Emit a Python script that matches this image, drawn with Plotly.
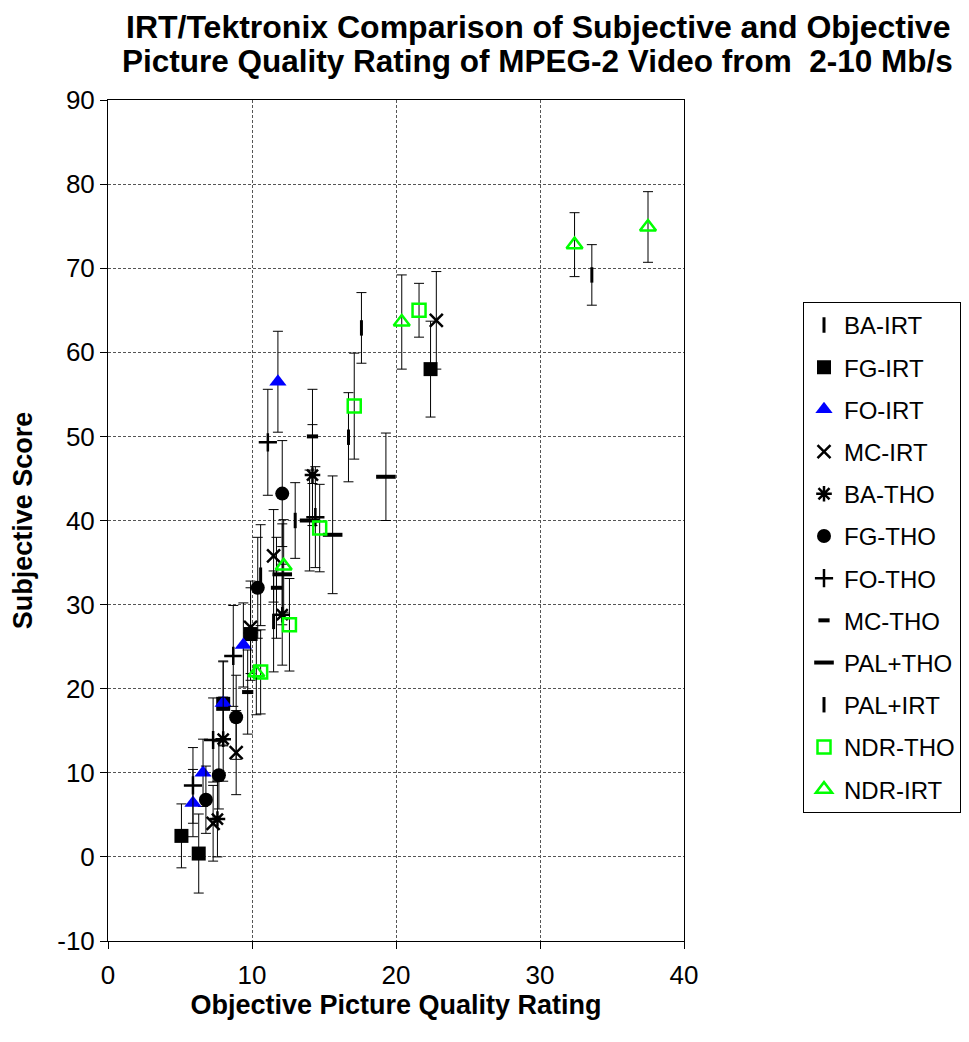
import plotly.graph_objects as go

# ---------------- data ----------------
series_names = ["BA-IRT", "FG-IRT", "FO-IRT", "MC-IRT", "BA-THO", "FG-THO",
                "FO-THO", "MC-THO", "PAL+THO", "PAL+IRT", "NDR-THO", "NDR-IRT"]

ba_irt_x = [10.6, 11.5, 13.0, 16.7]
ba_irt_y = [33.5, 28.0, 40.0, 49.9]
ba_irt_e = [6.0, 6.0, 4.5, 5.3]

fg_irt_x = [5.1, 6.3, 8.0, 9.9, 22.4]
fg_irt_y = [2.5, 0.4, 18.2, 26.5, 58.0]
fg_irt_e = [3.8, 4.7, 5.0, 5.5, 5.7]

fo_irt_x = [5.9, 6.6, 8.0, 9.4, 11.8]
fo_irt_y = [6.4, 10.0, 18.3, 25.2, 56.5]
fo_irt_e = [4.0, 4.0, 5.0, 5.0, 6.0]

mc_irt_x = [7.3, 8.9, 9.9, 11.5, 22.8]
mc_irt_y = [4.0, 12.4, 27.3, 35.8, 63.8]
mc_irt_e = [4.5, 5.0, 5.5, 5.5, 5.8]

ba_tho_x = [7.6, 8.0, 12.1, 14.2]
ba_tho_y = [4.5, 14.0, 28.8, 45.4]
ba_tho_e = [4.5, 5.0, 6.0, 6.0]

fg_tho_x = [6.8, 7.7, 8.9, 10.4, 12.1]
fg_tho_y = [6.8, 9.7, 16.6, 32.0, 43.2]
fg_tho_e = [4.0, 4.0, 5.0, 6.0, 6.3]

fo_tho_x = [5.9, 7.3, 8.7, 11.1, 14.4]
fo_tho_y = [8.5, 13.9, 23.9, 49.3, 40.4]
fo_tho_e = [4.5, 5.0, 6.0, 6.3, 6.0]

mc_tho_x = [9.7, 11.7, 14.2]
mc_tho_y = [19.6, 32.0, 50.0]
mc_tho_e = [5.0, 6.0, 5.6]

pal_tho_x = [12.1, 14.0, 15.6, 19.3]
pal_tho_y = [33.6, 40.0, 38.3, 45.2]
pal_tho_e = [6.0, 6.0, 7.0, 5.2]

pal_irt_x = [17.6, 33.6]
pal_irt_y = [62.9, 69.2]
pal_irt_e = [4.2, 3.6]

ndr_tho_x = [10.6, 12.6, 14.7, 17.1, 21.6]
ndr_tho_y = [22.0, 27.6, 39.1, 53.6, 65.0]
ndr_tho_e = [5.0, 5.5, 5.2, 6.3, 3.2]

ndr_irt_x = [10.3, 12.2, 20.4, 32.4, 37.5]
ndr_irt_y = [21.9, 34.6, 63.6, 72.8, 74.9]
ndr_irt_e = [5.0, 5.5, 5.6, 3.8, 4.2]

x_ticks = [0, 10, 20, 30, 40]
y_ticks = [-10, 0, 10, 20, 30, 40, 50, 60, 70, 80, 90]

# ---------------- styles ----------------
BLACK = "#000000"
BLUE = "#0000FF"
GREEN = "#00FF00"

styles = {
    "BA-IRT":  dict(symbol="line-ns", size=11, color=BLACK, line=dict(width=3, color=BLACK)),
    "FG-IRT":  dict(symbol="square", size=14, color=BLACK, line=dict(width=0)),
    "FO-IRT":  dict(symbol="triangle-up", size=15, color=BLUE, line=dict(width=0)),
    "MC-IRT":  dict(symbol="x-thin", size=13, color=BLACK, line=dict(width=2.5, color=BLACK)),
    "BA-THO":  dict(symbol="asterisk", size=13, color=BLACK, line=dict(width=2.5, color=BLACK)),
    "FG-THO":  dict(symbol="circle", size=14, color=BLACK, line=dict(width=0)),
    "FO-THO":  dict(symbol="cross-thin", size=13, color=BLACK, line=dict(width=2.5, color=BLACK)),
    "MC-THO":  dict(symbol="line-ew", size=8, color=BLACK, line=dict(width=4, color=BLACK)),
    "PAL+THO": dict(symbol="line-ew", size=14, color=BLACK, line=dict(width=4, color=BLACK)),
    "PAL+IRT": dict(symbol="line-ns", size=11, color=BLACK, line=dict(width=3, color=BLACK)),
    "NDR-THO": dict(symbol="square-open", size=13, color=GREEN, line=dict(width=2.5, color=GREEN)),
    "NDR-IRT": dict(symbol="triangle-up-open", size=14, color=GREEN, line=dict(width=2.5, color=GREEN)),
}

data = {
    "BA-IRT": (ba_irt_x, ba_irt_y, ba_irt_e),
    "FG-IRT": (fg_irt_x, fg_irt_y, fg_irt_e),
    "FO-IRT": (fo_irt_x, fo_irt_y, fo_irt_e),
    "MC-IRT": (mc_irt_x, mc_irt_y, mc_irt_e),
    "BA-THO": (ba_tho_x, ba_tho_y, ba_tho_e),
    "FG-THO": (fg_tho_x, fg_tho_y, fg_tho_e),
    "FO-THO": (fo_tho_x, fo_tho_y, fo_tho_e),
    "MC-THO": (mc_tho_x, mc_tho_y, mc_tho_e),
    "PAL+THO": (pal_tho_x, pal_tho_y, pal_tho_e),
    "PAL+IRT": (pal_irt_x, pal_irt_y, pal_irt_e),
    "NDR-THO": (ndr_tho_x, ndr_tho_y, ndr_tho_e),
    "NDR-IRT": (ndr_irt_x, ndr_irt_y, ndr_irt_e),
}

FONT = "Liberation Sans, Arial, sans-serif"

fig = go.Figure()
for name in series_names:
    xs, ys, es = data[name]
    fig.add_trace(go.Scatter(
        x=xs, y=ys, mode="markers", name=name,
        legendgroup=name,
        marker=styles[name],
        error_y=dict(type="data", array=es, visible=True,
                     color="#000000", thickness=1, width=5),
    ))

# page body has an 8px margin on every side; size the figure so it fits the window
fig.update_layout(
    width=953, height=1026,
    paper_bgcolor="white", plot_bgcolor="white",
    margin=dict(l=100, r=277, t=92, b=93, autoexpand=False),
    font=dict(family=FONT, size=24, color="black"),
    showlegend=True,
    legend=dict(
        x=1.2066, y=0.760, xanchor="left", yanchor="top",
        bordercolor="black", borderwidth=1, bgcolor="white",
        font=dict(family=FONT, size=24, color="black"),
        tracegroupgap=8, itemsizing="trace",
    ),
    annotations=[
        dict(text="<b>IRT/Tektronix Comparison of Subjective and Objective</b>",
             xref="paper", yref="paper", x=0.7465, y=1.0868,
             xanchor="center", yanchor="middle", showarrow=False,
             font=dict(family=FONT, size=32, color="black")),
        dict(text="<b>Picture Quality Rating of MPEG-2 Video from  2-10 Mb/s</b>",
             xref="paper", yref="paper", x=0.7465, y=1.0464,
             xanchor="center", yanchor="middle", showarrow=False,
             font=dict(family=FONT, size=31.5, color="black")),
    ],
)

fig.update_xaxes(
    range=[0, 40], tickvals=x_ticks, ticktext=[str(v) for v in x_ticks],
    showline=True, linecolor="black", linewidth=1, mirror=True,
    ticks="outside", ticklen=7, tickcolor="black", ticklabelstandoff=4,
    showgrid=True, gridcolor="#555555", gridwidth=1, griddash="3px,2px",
    zeroline=False,
    tickfont=dict(family=FONT, size=26),
    title=dict(text="<b>Objective Picture Quality Rating</b>",
               font=dict(family=FONT, size=27), standoff=0),
)
fig.update_yaxes(
    range=[-10, 90], tickvals=y_ticks, ticktext=[str(v) for v in y_ticks],
    showline=True, linecolor="black", linewidth=1, mirror=True,
    ticks="outside", ticklen=7, tickcolor="black",
    showgrid=True, gridcolor="#555555", gridwidth=1, griddash="3px,2px",
    zeroline=False,
    tickfont=dict(family=FONT, size=26),
    title=dict(text="<b>Subjective Score</b>",
               font=dict(family=FONT, size=27), standoff=18),
)

fig.write_html("out.html")
